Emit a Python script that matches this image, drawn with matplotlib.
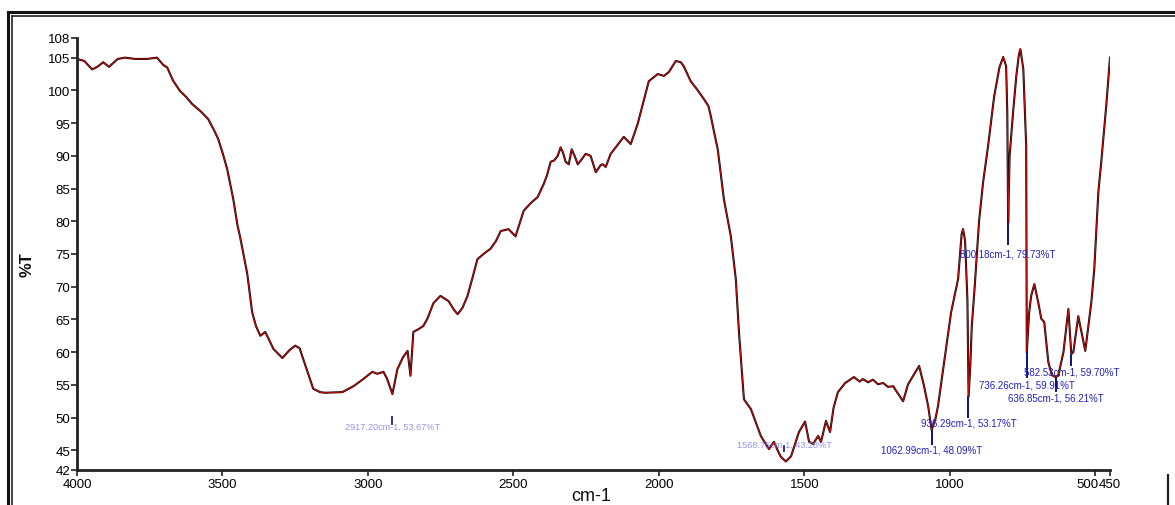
import matplotlib
matplotlib.use("Agg")
import matplotlib.pyplot as plt
from matplotlib.lines import Line2D
from matplotlib.transforms import ScaledTranslation

plt.rcParams['font.family'] = ['Liberation Sans', 'DejaVu Sans']

wavenumber = [4000, 3975, 3948, 3930, 3910, 3890, 3860, 3835, 3800, 3760, 3725, 3704, 3690, 3670,
              3646, 3625, 3604, 3575, 3549, 3530, 3515, 3500, 3484, 3463, 3449, 3439, 3415, 3398,
              3385, 3370, 3353, 3325, 3294, 3270, 3250, 3235, 3226, 3188, 3165, 3147, 3088, 3050,
              3016, 2985, 2968, 2947, 2935, 2916, 2899, 2880, 2864, 2854, 2844, 2827, 2810, 2796,
              2775, 2751, 2723, 2705, 2692, 2675, 2658, 2640, 2624, 2603, 2579, 2560, 2544, 2517,
              2493, 2480, 2465, 2440, 2417, 2396, 2385, 2372, 2360, 2348, 2338, 2330, 2321, 2310,
              2300, 2290, 2279, 2265, 2252, 2235, 2217, 2200, 2193, 2183, 2166, 2145, 2121, 2097,
              2073, 2055, 2035, 2004, 1983, 1966, 1942, 1925, 1915, 1891, 1870, 1846, 1830, 1822,
              1810, 1798, 1777, 1753, 1736, 1725, 1708, 1684, 1650, 1622, 1605, 1590, 1581, 1564,
              1546, 1519, 1498, 1484, 1470, 1453, 1443, 1426, 1412, 1400, 1385, 1360, 1330, 1310,
              1300, 1281, 1265, 1247, 1230, 1213, 1195, 1185, 1161, 1144, 1125, 1106, 1090, 1075,
              1063, 1050, 1041, 1020, 996, 972, 960, 955, 948, 940, 936, 930, 925, 915, 900, 886,
              869, 848, 830, 817, 807, 803, 800, 795, 783, 772, 763, 758, 748, 738, 736, 728, 721,
              710, 697, 686, 676, 662, 650, 637, 628, 610, 593, 583, 576, 559, 535, 514, 504, 490,
              480, 463, 450]
transmittance = [104.8, 104.5, 103.2, 103.6, 104.3, 103.6, 104.8, 105.0, 104.8, 104.8, 105.0, 103.9,
                 103.5, 101.5, 99.9, 99.0, 97.9, 96.8, 95.6, 94.0, 92.6, 90.5, 88.0, 83.4, 79.5,
                 77.5, 72.0, 66.1, 64.0, 62.5, 63.1, 60.5, 59.1, 60.3, 61.0, 60.6, 59.4, 54.4, 53.9,
                 53.8, 53.9, 54.8, 55.9, 57.0, 56.7, 57.0, 56.0, 53.6, 57.4, 59.2, 60.2, 56.4, 63.1,
                 63.5, 64.0, 65.1, 67.5, 68.6, 67.8, 66.5, 65.8, 66.8, 68.6, 71.5, 74.2, 75.0, 75.8,
                 77.0, 78.5, 78.8, 77.7, 79.5, 81.6, 82.8, 83.7, 85.7, 87.0, 89.1, 89.3, 90.0, 91.3,
                 90.5, 89.1, 88.7, 91.0, 90.0, 88.7, 89.5, 90.3, 90.0, 87.5, 88.6, 88.7, 88.3, 90.3,
                 91.5, 92.9, 91.8, 94.9, 98.0, 101.4, 102.5, 102.2, 102.8, 104.5, 104.3, 103.7,
                 101.4, 100.2, 98.7, 97.6, 96.1, 93.5, 91.0, 83.4, 77.7, 71.2, 63.0, 52.8, 51.3,
                 47.2, 45.2, 46.3, 44.8, 44.0, 43.3, 44.1, 47.8, 49.4, 46.3, 46.0, 47.2, 46.3, 49.5,
                 47.8, 51.5, 53.9, 55.3, 56.2, 55.5, 55.9, 55.4, 55.8, 55.1, 55.3, 54.7, 54.8, 54.1,
                 52.5, 55.1, 56.5, 57.9, 55.0, 51.8, 48.1, 49.8, 51.8, 58.5, 66.1, 71.2, 78.0, 78.8,
                 77.0, 68.0, 53.2, 58.0, 64.0, 70.0, 80.0, 86.0, 91.5, 99.1, 103.5, 105.1, 103.7,
                 96.7, 79.7, 90.0, 96.7, 102.2, 105.5, 106.3, 103.3, 91.5, 59.9, 66.0, 68.6, 70.4,
                 67.7, 65.1, 64.6, 58.5, 56.5, 56.2, 56.4, 60.0, 66.6, 59.7, 60.0, 65.5, 60.2, 67.7,
                 72.7, 84.5, 89.1, 97.6, 105.0]

x_ticks = [4000, 3500, 3000, 2500, 2000, 1500, 1000, 500, 450]
y_ticks = [42, 45, 50, 55, 60, 65, 70, 75, 80, 85, 90, 95, 100, 105, 108]

peak_wn = [800.18, 936.29, 1062.99, 736.26, 636.85, 582.53, 1568.75, 2917.20]
peak_t = [79.73, 53.17, 48.09, 59.91, 56.21, 59.70, 43.28, 53.67]
peak_labels = ["800.18cm-1, 79.73%T", "936.29cm-1, 53.17%T", "1062.99cm-1, 48.09%T",
               "736.26cm-1, 59.91%T", "636.85cm-1, 56.21%T", "582.53cm-1, 59.70%T",
               "1568.75cm-1, 43.28%T", "2917.20cm-1, 53.67%T"]
# marker tops/bottoms and label y (layout)
mark_top = [79.6, 53.1, 47.9, 59.8, 56.0, 59.6, 45.6, 50.1]
mark_bot = [76.5, 50.1, 46.0, 56.2, 54.1, 58.1, 44.9, 49.0]
label_y = [75.0, 49.2, 45.2, 55.1, 53.1, 57.1, 46.0, 48.7]
faded = [False, False, False, False, False, False, True, True]

fig = plt.figure(figsize=(11.75, 5.06), dpi=100)
ax = fig.add_axes([77 / 1175, 1 - 471 / 506, (1110 - 77) / 1175, (471 - 39) / 506])

ax.plot(wavenumber, transmittance, color='#220000', lw=1.5, solid_joinstyle='round')
ax.plot(wavenumber, transmittance, color='#d01010', lw=0.6, solid_joinstyle='round')

for w, top, bot, lab, ly, fd in zip(peak_wn, mark_top, mark_bot, peak_labels, label_y, faded):
    ax.plot([w, w], [bot, top], color='#101080' if not fd else '#303090', lw=1.4)
    if fd:
        ax.text(w, ly, lab, color='#7070ee', fontsize=6.6, ha='center', va='center', alpha=0.75)
    else:
        ax.text(w, ly, lab, color='#2020c0', fontsize=7, ha='center', va='center')

ax.set_xlim(4000, 450)
ax.set_ylim(42, 108)
ax.set_xticks(x_ticks)
ax.set_xticklabels([str(t) for t in x_ticks])
ax.set_yticks(y_ticks)
ax.set_yticklabels([str(t) for t in y_ticks])
ax.spines['top'].set_visible(False)
ax.spines['right'].set_visible(False)
for s in ['left', 'bottom']:
    ax.spines[s].set_linewidth(2.0)
    ax.spines[s].set_color('#222222')
ax.tick_params(axis='both', direction='out', length=4, width=1.2, color='#222222',
               labelsize=9.5, pad=1)
ax.tick_params(axis='x', pad=2)
for lbl in ax.get_xticklabels():
    if lbl.get_text() == '500':
        lbl.set_horizontalalignment('right')
        lbl.set_transform(lbl.get_transform() + ScaledTranslation(3 / 100, 0, fig.dpi_scale_trans))

fig.text(27 / 1175, 1 - 265 / 506, '%T', rotation=90, fontsize=12, ha='center', va='center',
         fontweight='bold', color='#111111')
fig.text(591 / 1175, 1 - 497 / 506, 'cm-1', fontsize=13, ha='center', va='center',
         color='#111111')

# outer frame
fig.add_artist(Line2D([8 / 1175, 8 / 1175], [0, 1 - 13 / 506], transform=fig.transFigure,
                      color='#111111', lw=2.2))
fig.add_artist(Line2D([12 / 1175, 12 / 1175], [0, 1 - 17 / 506], transform=fig.transFigure,
                      color='#222222', lw=1.2))
fig.add_artist(Line2D([8 / 1175, 1], [1 - 13 / 506, 1 - 13 / 506], transform=fig.transFigure,
                      color='#111111', lw=2.2))
fig.add_artist(Line2D([12 / 1175, 1], [1 - 17 / 506, 1 - 17 / 506], transform=fig.transFigure,
                      color='#222222', lw=1.2))
fig.add_artist(Line2D([1168 / 1175, 1168 / 1175], [0, 1 - 476 / 506], transform=fig.transFigure,
                      color='#222222', lw=1.6))

fig.savefig('out.png', dpi=100)
